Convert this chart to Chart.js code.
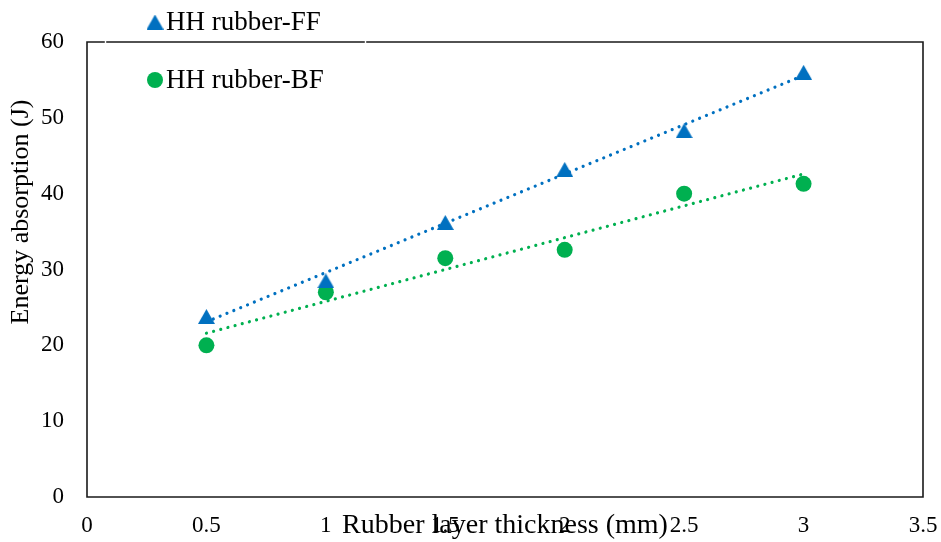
<!DOCTYPE html>
<html>
<head>
<meta charset="utf-8">
<script src="https://cdn.jsdelivr.net/npm/chart.js@4/dist/chart.umd.min.js"></script>
<style>
  html, body { margin: 0; padding: 0; background: #fff; }
  #wrap { width: 941px; height: 542px; position: relative; }
</style>
</head>
<body>
<div id="wrap"><canvas id="c" width="941" height="542"></canvas></div>
<script>
// Rubber layer thickness (mm)
const thickness = [0.5, 1, 1.5, 2, 2.5, 3];
// Energy absorption (J)
const ffEnergy = [23.8, 28.5, 36.2, 43.2, 48.3, 56.0];
const bfEnergy = [20.0, 27.0, 31.5, 32.6, 40.0, 41.3];
// Linear trendline ends (at thickness 0.5 and 3)
const trendX = [0.5, 3];
const ffTrend = [23.1, 55.6];
const bfTrend = [21.6, 42.6];
// Axis ticks
const xTicks = [0, 0.5, 1, 1.5, 2, 2.5, 3, 3.5];
const yTicks = [0, 10, 20, 30, 40, 50, 60];
const seriesNames = ['HH rubber-FF', 'HH rubber-BF'];

const BLUE = '#0070C0';
const GREEN = '#00B050';
const SERIF = '"Liberation Serif", "Times New Roman", serif';

const pts = (xs, ys) => xs.map((x, i) => ({ x, y: ys[i] }));

// Filled triangle marker, centred on its bounding box
function triangleMarker(w, h, color) {
  const cv = document.createElement('canvas');
  cv.width = w; cv.height = h;
  const c = cv.getContext('2d');
  c.fillStyle = color;
  c.beginPath();
  c.moveTo(w / 2, 0);
  c.lineTo(w, h);
  c.lineTo(0, h);
  c.closePath();
  c.fill();
  return cv;
}
const triFF = triangleMarker(17, 15, BLUE);

// Box, legend and axis titles
const decor = {
  id: 'decor',
  afterDraw(chart) {
    const { ctx, chartArea: a } = chart;
    ctx.save();
    // plot frame with the small breaks where the legend box sits
    ctx.strokeStyle = '#1a1a1a';
    ctx.lineWidth = 1.6;
    ctx.lineCap = 'square';
    ctx.beginPath();
    ctx.moveTo(a.left, a.top);
    ctx.lineTo(104, a.top);
    ctx.moveTo(107, a.top);
    ctx.lineTo(364, a.top);
    ctx.moveTo(367, a.top);
    ctx.lineTo(a.right, a.top);
    ctx.lineTo(a.right, a.bottom);
    ctx.lineTo(a.left, a.bottom);
    ctx.lineTo(a.left, a.top);
    ctx.stroke();

    // legend
    ctx.font = '27px ' + SERIF;
    ctx.fillStyle = '#000';
    ctx.textBaseline = 'middle';
    ctx.textAlign = 'left';
    ctx.drawImage(triFF, 155 - triFF.width / 2, 22 - triFF.height / 2);
    ctx.fillText(seriesNames[0], 166, 23);
    ctx.beginPath();
    ctx.arc(155, 80, 8, 0, Math.PI * 2);
    ctx.fillStyle = GREEN;
    ctx.fill();
    ctx.fillStyle = '#000';
    ctx.fillText(seriesNames[1], 166, 81);

    // axis titles
    ctx.font = '28px ' + SERIF;
    ctx.textAlign = 'center';
    ctx.fillText('Rubber layer thickness (mm)', 505, 526);
    ctx.font = '26px ' + SERIF;
    ctx.translate(21, 212);
    ctx.rotate(-Math.PI / 2);
    ctx.fillText('Energy absorption (J)', 0, 0);
    ctx.restore();
  }
};

new Chart(document.getElementById('c'), {
  type: 'scatter',
  data: {
    datasets: [
      {
        label: seriesNames[0] + ' trend',
        data: pts(trendX, ffTrend),
        showLine: true,
        borderColor: BLUE,
        borderWidth: 3.2,
        borderDash: [0.01, 7.4],
        borderCapStyle: 'round',
        pointRadius: 0,
        order: 2
      },
      {
        label: seriesNames[1] + ' trend',
        data: pts(trendX, bfTrend),
        showLine: true,
        borderColor: GREEN,
        borderWidth: 3.2,
        borderDash: [0.01, 7.4],
        borderCapStyle: 'round',
        pointRadius: 0,
        order: 2
      },
      {
        label: seriesNames[0],
        data: pts(thickness, ffEnergy),
        pointStyle: triFF,
        pointRadius: 9,
        order: 1
      },
      {
        label: seriesNames[1],
        data: pts(thickness, bfEnergy),
        pointStyle: 'circle',
        pointRadius: 8,
        pointBackgroundColor: GREEN,
        pointBorderWidth: 0,
        order: 1
      }
    ]
  },
  options: {
    responsive: false,
    animation: false,
    layout: { padding: { left: 0, top: 42, right: 18, bottom: 0 } },
    plugins: { legend: { display: false }, tooltip: { enabled: false } },
    scales: {
      x: {
        type: 'linear',
        min: xTicks[0],
        max: xTicks[xTicks.length - 1],
        afterBuildTicks(s) { s.ticks = xTicks.map(v => ({ value: v })); },
        afterFit(s) { s.height = 45; s.paddingRight = 0; s.paddingLeft = 0; },
        grid: { display: false, drawTicks: false },
        border: { display: false },
        ticks: {
          padding: 15,
          color: '#000',
          font: { family: SERIF, size: 23 },
          maxRotation: 0,
          autoSkip: false,
          callback: v => String(v)
        }
      },
      y: {
        type: 'linear',
        min: yTicks[0],
        max: yTicks[yTicks.length - 1],
        afterBuildTicks(s) { s.ticks = yTicks.map(v => ({ value: v })); },
        afterFit(s) { s.width = 87; s.paddingTop = 0; s.paddingBottom = 0; },
        grid: { display: false, drawTicks: false },
        border: { display: false },
        ticks: {
          padding: 23,
          color: '#000',
          font: { family: SERIF, size: 23 },
          callback: v => String(v)
        }
      }
    }
  },
  plugins: [decor]
});
</script>
</body>
</html>
